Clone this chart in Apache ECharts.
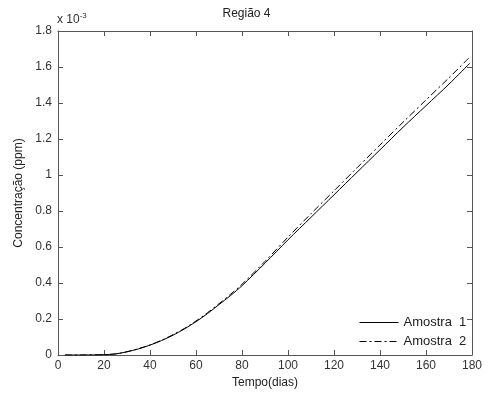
<!DOCTYPE html>
<html>
<head>
<meta charset="utf-8">
<script src="https://cdn.jsdelivr.net/npm/echarts@6/dist/echarts.min.js"></script>
<style>html,body{margin:0;padding:0;background:#fff}#c{width:493px;height:394px}</style>
</head>
<body>
<div id="c"></div>
<script>
// Days (x) and concentrations (x 10^-3 ppm)
var days = [3, 10, 20, 25, 30, 35, 40, 45, 50, 55, 60, 65, 70, 75, 80, 90, 100, 110, 120, 130, 140, 150, 160, 170, 179];
var amostra1 = [0, 0, 0.002, 0.006, 0.018, 0.034, 0.055, 0.08, 0.11, 0.145, 0.185, 0.23, 0.28, 0.33, 0.385, 0.51, 0.64, 0.765, 0.89, 1.015, 1.14, 1.265, 1.385, 1.505, 1.62];
var amostra2 = [0, 0, 0.002, 0.006, 0.018, 0.035, 0.056, 0.082, 0.113, 0.148, 0.189, 0.235, 0.285, 0.337, 0.393, 0.52, 0.655, 0.785, 0.912, 1.04, 1.167, 1.293, 1.417, 1.54, 1.655];
var xTicks = [0, 20, 40, 60, 80, 100, 120, 140, 160, 180];
var yTicks = [0, 0.2, 0.4, 0.6, 0.8, 1, 1.2, 1.4, 1.6, 1.8];

function pairs(xs, ys) { return xs.map(function (x, i) { return [x, ys[i]]; }); }

var font = 'Liberation Sans, Arial, sans-serif';
var axisColor = '#555';
function tick() { return { show: true, inside: true, length: 5, lineStyle: { color: axisColor } }; }
function line() { return { show: true, onZero: false, lineStyle: { color: axisColor } }; }
var chart = echarts.init(document.getElementById('c'));
chart.setOption({
  animation: false,
  title: { text: 'Região 4', left: 'center', top: 3, textStyle: { fontFamily: font, fontSize: 12, fontWeight: 'normal', color: '#222' } },
  grid: { left: 58, right: 21, top: 31, bottom: 38 },
  legend: {
    orient: 'vertical', left: 354, top: 311, itemWidth: 39, itemHeight: 10, itemGap: 6,
    itemStyle: { opacity: 0 }, lineStyle: { width: 1 },
    textStyle: { fontFamily: font, fontSize: 13, color: '#222' },
    data: [{ name: 'Amostra  1' }, { name: 'Amostra  2' }]
  },
  xAxis: [{
    type: 'value', min: xTicks[0], max: xTicks[xTicks.length - 1], interval: 20,
    name: 'Tempo(dias)', nameLocation: 'middle', nameGap: 22,
    nameTextStyle: { fontFamily: font, fontSize: 12, color: '#222' },
    axisLine: line(), axisTick: tick(),
    axisLabel: { fontFamily: font, fontSize: 12, color: '#333', margin: 5 },
    splitLine: { show: false }
  }, {
    type: 'value', position: 'top', min: 0, max: 180, interval: 20,
    axisLine: line(), axisTick: tick(), axisLabel: { show: false }, splitLine: { show: false }
  }],
  yAxis: [{
    type: 'value', min: yTicks[0], max: yTicks[yTicks.length - 1], interval: 0.2,
    name: 'Concentração (ppm)', nameLocation: 'middle', nameGap: 26,
    nameTextStyle: { fontFamily: font, fontSize: 12, color: '#222' },
    axisLine: line(), axisTick: tick(),
    axisLabel: { fontFamily: font, fontSize: 12, color: '#333', margin: 6, formatter: function (v) { return String(+v.toFixed(1)); } },
    splitLine: { show: false }
  }, {
    type: 'value', position: 'right', min: 0, max: 1.8, interval: 0.2,
    axisLine: line(), axisTick: tick(), axisLabel: { show: false }, splitLine: { show: false }
  }],
  graphic: [{
    type: 'text', left: 57, top: 12,
    style: {
      text: 'x 10{s|-3}', fontFamily: font, fontSize: 12, fill: '#333',
      rich: { s: { fontSize: 8, verticalAlign: 'top', padding: [0, 0, 8, 0], fontFamily: font, fill: '#333' } }
    }
  }],
  series: [{
    name: 'Amostra  1', type: 'line', data: pairs(days, amostra1), symbol: 'none', smooth: 0.3,
    lineStyle: { color: '#000', width: 1 }, itemStyle: { color: '#000' }
  }, {
    name: 'Amostra  2', type: 'line', data: pairs(days, amostra2), symbol: 'none', smooth: 0.3,
    lineStyle: { color: '#000', width: 1, type: [7, 3, 2, 3] }, itemStyle: { color: '#000' }
  }]
});
</script>
</body>
</html>
